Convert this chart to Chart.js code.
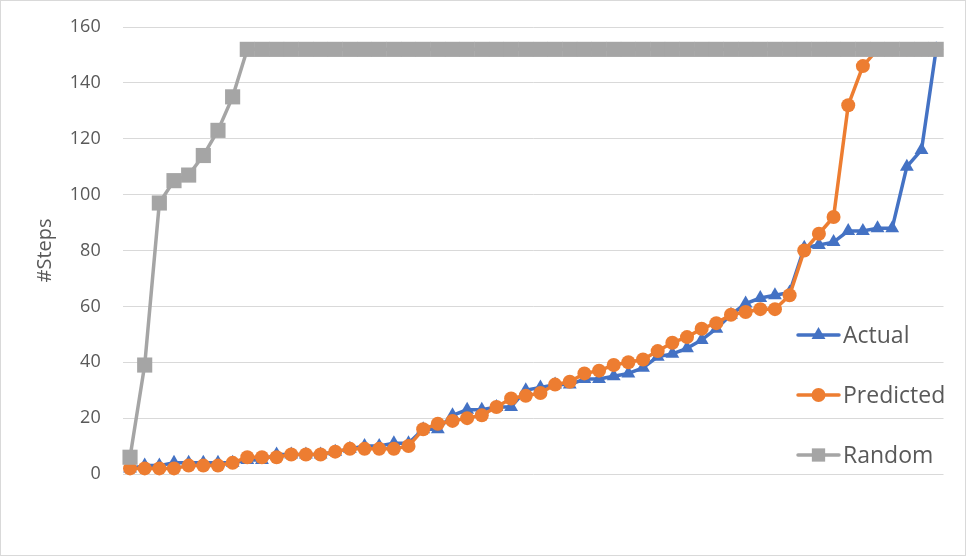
<!DOCTYPE html>
<html>
<head>
<meta charset="utf-8">
<style>
  html, body { margin: 0; padding: 0; background: #ffffff; }
  #wrap { width: 967px; height: 557px; }
</style>
<script src="https://cdn.jsdelivr.net/npm/chart.js"></script>
</head>
<body>
<div id="wrap"><canvas id="c" width="967" height="557"></canvas></div>
<script>
// ---- data ----
const categories = Array.from({length: 56}, (_, i) => String(i + 1));
const seriesNames = ["Actual", "Predicted", "Random"];
const actual = [2, 3, 3, 4, 4, 4, 4, 4, 5, 5, 7, 7, 7, 7, 8, 9, 10, 10, 11, 11,
  16, 16, 21, 23, 23, 24, 24, 30, 31, 32, 32, 34, 34, 35, 36, 38, 42, 43, 45, 48,
  52, 57, 61, 63, 64, 65, 81, 82, 83, 87, 87, 88, 88, 110, 116, 152];
const predicted = [2, 2, 2, 2, 3, 3, 3, 4, 6, 6, 6, 7, 7, 7, 8, 9, 9, 9, 9, 10,
  16, 18, 19, 20, 21, 24, 27, 28, 29, 32, 33, 36, 37, 39, 40, 41, 44, 47, 49, 52,
  54, 57, 58, 59, 59, 64, 80, 86, 92, 132, 146, 152, 152, 152, 152, 152];
const random = [6, 39, 97, 105, 107, 114, 123, 135,
  152, 152, 152, 152, 152, 152, 152, 152, 152, 152, 152, 152, 152, 152, 152, 152,
  152, 152, 152, 152, 152, 152, 152, 152, 152, 152, 152, 152, 152, 152, 152, 152,
  152, 152, 152, 152, 152, 152, 152, 152, 152, 152, 152, 152, 152, 152, 152, 152];
const yTicks = [0, 20, 40, 60, 80, 100, 120, 140, 160];
const yTitle = "#Steps";

// ---- styles ----
const colors = ["#4472C4", "#ED7D31", "#A5A5A5"];
const styles = ["triangle", "circle", "rect"];
const radii = [8, 7, 10.7];
const values = [actual, predicted, random];
const FONT = "'Open Sans', 'Liberation Sans', sans-serif";

const datasets = seriesNames.map((name, k) => ({
  label: name,
  data: values[k],
  borderColor: colors[k],
  backgroundColor: colors[k],
  pointBackgroundColor: colors[k],
  pointBorderColor: colors[k],
  pointBorderWidth: 0,
  pointStyle: styles[k],
  pointRadius: radii[k],
  pointHoverRadius: radii[k],
  borderWidth: 3.5,
  borderJoinStyle: 'round',
  borderCapStyle: 'round',
  tension: 0,
  fill: false,
  clip: false,
  order: 2 - k
}));

const LEFT = 122.7, RIGHT = 943.5, TOP = 27, BOTTOM = 474;
const PADL = 29;

function drawMarker(ctx, style, x, y, r, color) {
  ctx.save();
  ctx.fillStyle = color;
  ctx.beginPath();
  if (style === 'circle') {
    ctx.arc(x, y, r, 0, Math.PI * 2);
  } else if (style === 'rect') {
    const s = Math.SQRT1_2 * r;
    ctx.rect(x - s, y - s, 2 * s, 2 * s);
  } else {
    const a = 2 * Math.PI / 3;
    ctx.moveTo(x, y - r);
    ctx.lineTo(x + Math.sin(a) * r, y - Math.cos(a) * r);
    ctx.lineTo(x + Math.sin(2 * a) * r, y - Math.cos(2 * a) * r);
    ctx.closePath();
  }
  ctx.fill();
  ctx.restore();
}

const legendPlugin = {
  id: 'customLegend',
  afterDraw(chart) {
    const ctx = chart.ctx;
    const rows = [335, 395, 455];
    const legendRadii = [8, 7, 9.4];
    chart.data.datasets.forEach((ds, k) => {
      const y = rows[k];
      ctx.save();
      ctx.strokeStyle = ds.borderColor;
      ctx.lineWidth = 3.5;
      ctx.lineCap = 'round';
      ctx.beginPath();
      ctx.moveTo(798, y);
      ctx.lineTo(839, y);
      ctx.stroke();
      ctx.restore();
      const opts = {pointStyle: ds.pointStyle, radius: legendRadii[k], rotation: 0, borderWidth: 0};
      if (Chart.helpers && Chart.helpers.drawPoint) {
        ctx.save();
        ctx.fillStyle = ds.pointBackgroundColor;
        ctx.strokeStyle = ds.pointBorderColor;
        Chart.helpers.drawPoint(ctx, opts, 818.5, y);
        ctx.restore();
      } else {
        drawMarker(ctx, ds.pointStyle, 818.5, y, legendRadii[k], ds.pointBackgroundColor);
      }
      ctx.save();
      ctx.fillStyle = '#595959';
      ctx.font = '23px ' + FONT;
      ctx.textAlign = 'left';
      ctx.textBaseline = 'alphabetic';
      ctx.fillText(ds.label, 843, y + 8);
      ctx.restore();
    });
    // outer chart border
    ctx.save();
    ctx.strokeStyle = '#d9d9d9';
    ctx.lineWidth = 1;
    ctx.strokeRect(0.5, 0.5, 965, 555);
    ctx.restore();
  }
};

const bgPlugin = {
  id: 'bg',
  beforeDraw(chart) {
    const ctx = chart.ctx;
    ctx.save();
    ctx.fillStyle = '#ffffff';
    ctx.fillRect(0, 0, chart.width, chart.height);
    ctx.restore();
  }
};

new Chart(document.getElementById('c'), {
  type: 'line',
  data: { labels: categories, datasets: datasets },
  options: {
    responsive: false,
    animation: false,
    devicePixelRatio: 1,
    layout: { padding: { left: PADL, right: 967 - RIGHT, top: TOP, bottom: 557 - BOTTOM } },
    plugins: {
      legend: { display: false },
      tooltip: { enabled: false }
    },
    scales: {
      x: {
        type: 'category',
        offset: true,
        grid: { display: false },
        border: { display: false },
        ticks: { display: false },
        afterFit(s) { s.height = 0; }
      },
      y: {
        min: 0,
        max: 160,
        afterBuildTicks(s) { s.ticks = yTicks.map(v => ({value: v})); },
        ticks: {
          color: '#595959',
          font: { family: FONT, size: 18 },
          padding: 22
        },
        grid: { color: '#d9d9d9', lineWidth: 1, drawTicks: false },
        border: { display: false },
        title: {
          display: true,
          text: yTitle,
          color: '#595959',
          font: { family: FONT, size: 20 },
          padding: { top: 4, bottom: 4 }
        },
        afterFit(s) {
          s.width = LEFT - PADL;
          s.paddingTop = 10;
          s.paddingBottom = 10;
        }
      }
    }
  },
  plugins: [bgPlugin, legendPlugin]
});
</script>
</body>
</html>
